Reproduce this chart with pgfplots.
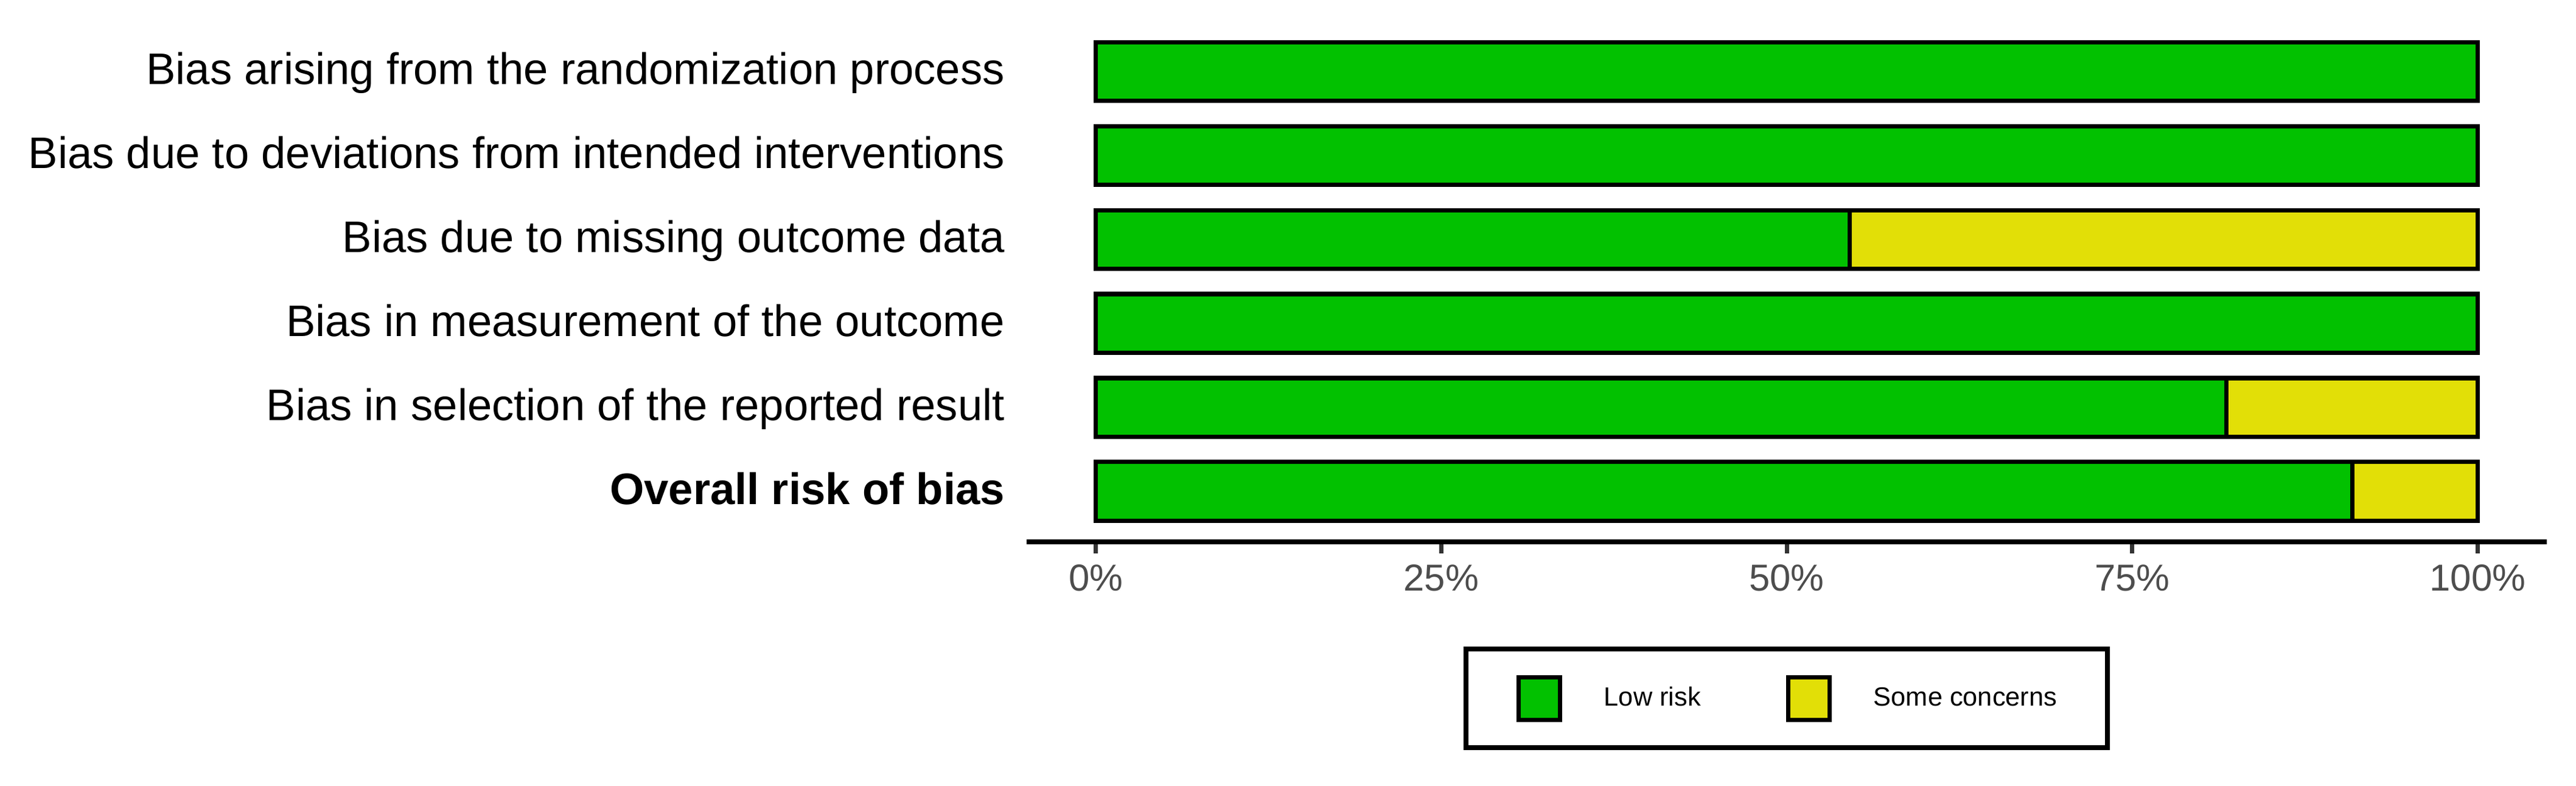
\documentclass[border=0pt]{standalone}
\usepackage{fontspec}
\setmainfont{Liberation Sans}
\usepackage{pgfplots}
\pgfplotsset{compat=1.18}
\usepackage{pgfplotstable}

\definecolor{lowrisk}{HTML}{02C100}
\definecolor{somecon}{HTML}{E2DF07}
\definecolor{ticktext}{HTML}{4D4D4D}
\definecolor{tickline}{HTML}{333333}

% domain, low risk %, some concerns %
\pgfplotstableread{
y low some
0 100 0
1 100 0
2 54.55 45.45
3 100 0
4 81.82 18.18
5 90.91 9.09
}\robdata

\begin{document}
\begin{tikzpicture}
\useasboundingbox (-404.9pt,-96pt) rectangle (611.0pt,213.6pt);
\begin{axis}[
    scale only axis,
    width=599.5pt, height=205.3pt,
    xbar stacked,
    bar width=0.7,
    xmin=-5, xmax=105,
    ymin=-0.6, ymax=5.6,
    y dir=reverse,
    separate axis lines,
    axis x line*=bottom,
    axis y line*=left,
    x axis line style={line width=1.7pt, black, -},
    y axis line style={draw=none},
    xtick={0,25,50,75,100},
    xticklabels={0\%,25\%,50\%,75\%,100\%},
    ytick={0,1,2,3,4,5},
    yticklabels={Bias arising from the randomization process,
        Bias due to deviations from intended interventions,
        Bias due to missing outcome data,
        Bias in measurement of the outcome,
        Bias in selection of the reported result,
        \textbf{Overall risk of bias}},
    ytick style={draw=none},
    xtick style={line width=1.7pt, tickline},
    tick align=outside,
    major tick length=4.5pt,
    xticklabel style={font=\fontsize{14.8}{17}\selectfont, text=ticktext, inner sep=0pt, yshift=-4.3pt},
    yticklabel style={font=\fontsize{17.4}{20}\selectfont, anchor=base east, inner sep=0pt, xshift=-4pt, yshift=-5pt},
    legend columns=2,
    legend style={at={(0.5,-0.3005)}, anchor=center, draw=black, line width=1.9pt,
        font=\fontsize{10.4}{12}\selectfont,
        inner xsep=20pt, inner ysep=10.25pt,
        nodes={inner sep=0pt},
        /tikz/every odd column/.append style={column sep=16.5pt},
        /tikz/every even column/.append style={column sep=33.7pt}},
]
\addplot[fill=lowrisk, draw=black, line width=1.7pt,
    legend image code/.code={\draw[line width=1.7pt, fill=lowrisk] (0pt,-8.4pt) rectangle (16.3pt,8.4pt);}]
    table[x=low, y=y] {\robdata};
\addplot[fill=somecon, draw=black, line width=1.7pt,
    legend image code/.code={\draw[line width=1.7pt, fill=somecon] (0pt,-8.4pt) rectangle (16.3pt,8.4pt);}]
    table[x=some, y=y] {\robdata};
\legend{Low risk, Some concerns}
\end{axis}
\end{tikzpicture}
\end{document}
